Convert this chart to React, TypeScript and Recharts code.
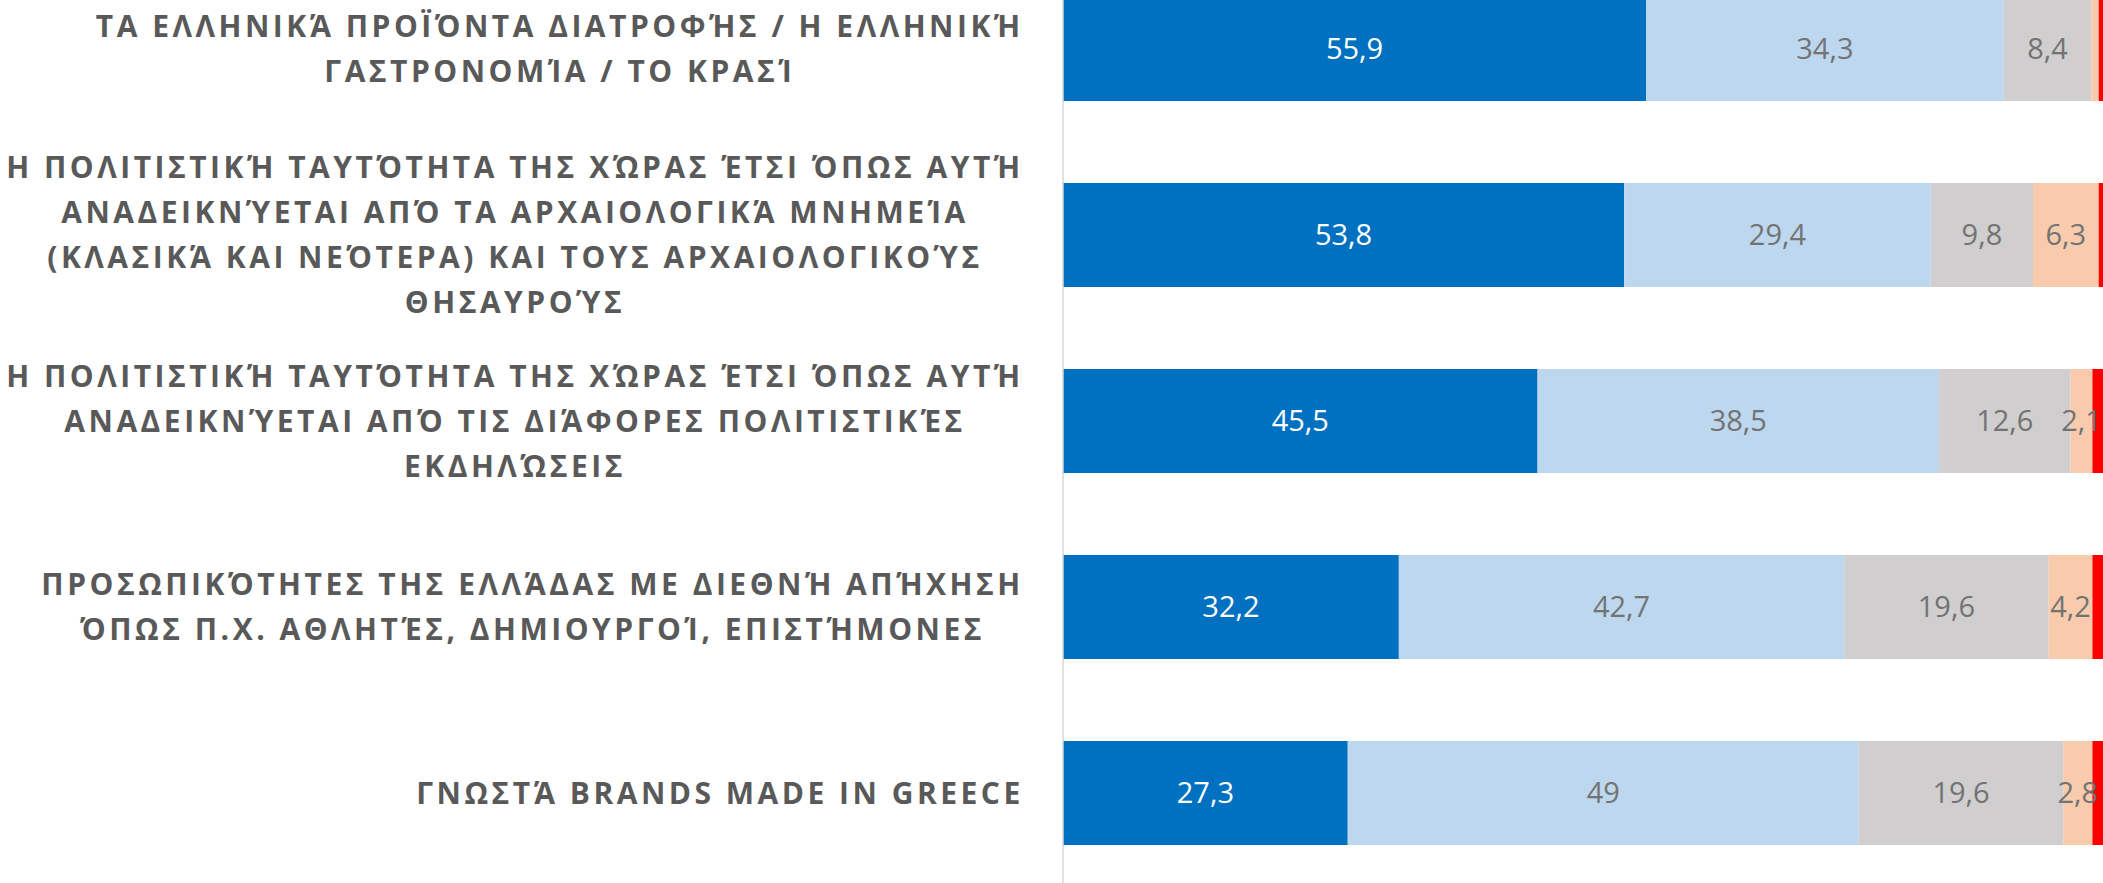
import { BarChart, Bar, XAxis, YAxis, LabelList } from 'recharts'

const categories = [
  'ΤΑ ΕΛΛΗΝΙΚΆ ΠΡΟΪΌΝΤΑ ΔΙΑΤΡΟΦΉΣ / Η ΕΛΛΗΝΙΚΉ\nΓΑΣΤΡΟΝΟΜΊΑ / ΤΟ ΚΡΑΣΊ',
  'Η ΠΟΛΙΤΙΣΤΙΚΉ ΤΑΥΤΌΤΗΤΑ ΤΗΣ ΧΏΡΑΣ ΈΤΣΙ ΌΠΩΣ ΑΥΤΉ\nΑΝΑΔΕΙΚΝΎΕΤΑΙ ΑΠΌ ΤΑ ΑΡΧΑΙΟΛΟΓΙΚΆ ΜΝΗΜΕΊΑ\n(ΚΛΑΣΙΚΆ ΚΑΙ ΝΕΌΤΕΡΑ) ΚΑΙ ΤΟΥΣ ΑΡΧΑΙΟΛΟΓΙΚΟΎΣ\nΘΗΣΑΥΡΟΎΣ',
  'Η ΠΟΛΙΤΙΣΤΙΚΉ ΤΑΥΤΌΤΗΤΑ ΤΗΣ ΧΏΡΑΣ ΈΤΣΙ ΌΠΩΣ ΑΥΤΉ\nΑΝΑΔΕΙΚΝΎΕΤΑΙ ΑΠΌ ΤΙΣ ΔΙΆΦΟΡΕΣ ΠΟΛΙΤΙΣΤΙΚΈΣ\nΕΚΔΗΛΏΣΕΙΣ',
  'ΠΡΟΣΩΠΙΚΌΤΗΤΕΣ ΤΗΣ ΕΛΛΆΔΑΣ ΜΕ ΔΙΕΘΝΉ ΑΠΉΧΗΣΗ\nΌΠΩΣ Π.Χ. ΑΘΛΗΤΈΣ, ΔΗΜΙΟΥΡΓΟΊ, ΕΠΙΣΤΉΜΟΝΕΣ',
  'ΓΝΩΣΤΆ BRANDS MADE IN GREECE',
]

const seriesA = [55.9, 53.8, 45.5, 32.2, 27.3]
const seriesB = [34.3, 29.4, 38.5, 42.7, 49]
const seriesC = [8.4, 9.8, 12.6, 19.6, 19.6]
const seriesD = [0.7, 6.3, 2.1, 4.2, 2.8]
const seriesE = [0.7, 0.7, 1.3, 1.3, 1.3]

const data = categories.map((name, i) => ({
  name,
  a: seriesA[i],
  b: seriesB[i],
  c: seriesC[i],
  d: seriesD[i],
  e: seriesE[i],
}))

const LABEL_FONT = '"Open Sans", sans-serif'
const LABEL_SIZE = 30
const LABEL_SPACING = 3.5
const LABEL_RIGHT = 1022
const LINE_H = 45

let ctx: CanvasRenderingContext2D | null = null
const measure = (s: string) => {
  if (!ctx) ctx = document.createElement('canvas').getContext('2d')
  if (!ctx) return s.length * 20
  ctx.font = `700 ${LABEL_SIZE}px "Open Sans"`
  return ctx.measureText(s).width + LABEL_SPACING * (s.length - 1)
}

const CategoryTick = (props: any) => {
  const { y, payload } = props
  const lines = String(payload.value).split('\n')
  const block = Math.max(...lines.map(measure))
  const cx = LABEL_RIGHT - block / 2
  const start = y - ((lines.length - 1) * LINE_H) / 2
  return (
    <text
      textAnchor="middle"
      fontFamily={LABEL_FONT}
      fontWeight={700}
      fontSize={LABEL_SIZE}
      letterSpacing={LABEL_SPACING}
      fill="#595959"
    >
      {lines.map((l, i) => (
        <tspan key={i} x={cx} y={start + i * LINE_H} dy="0.36em">
          {l}
        </tspan>
      ))}
    </text>
  )
}

// values under 1 carry no label in the source
const fmt = (v: any) => (Number(v) < 1 ? '' : String(v).replace('.', ','))

const valueLabel = (key: string, fill: string) => (
  <LabelList
    dataKey={key}
    position="center"
    formatter={fmt}
    fill={fill}
    fontSize={29}
    fontFamily={LABEL_FONT}
  />
)

export default function App() {
  return (
    <div
      style={{
        position: 'fixed',
        left: 0,
        top: 0,
        width: 2103,
        height: 883,
        overflow: 'hidden',
        background: '#fff',
      }}
    >
      <div style={{ position: 'absolute', left: 0, top: -44 }}>
        <BarChart
          layout="vertical"
          width={2110}
          height={930}
          data={data}
          margin={{ top: 0, right: 4, bottom: 0, left: 0 }}
        >
          <XAxis type="number" domain={[0, 100]} hide />
          <YAxis
            type="category"
            dataKey="name"
            width={1063}
            tickLine={false}
            axisLine={{ stroke: '#d9d9d9', strokeWidth: 1.5 }}
            tick={<CategoryTick />}
            interval={0}
          />
          <Bar dataKey="a" stackId="s" fill="#0070C0" barSize={104} isAnimationActive={false}>
            {valueLabel('a', '#ffffff')}
          </Bar>
          <Bar dataKey="b" stackId="s" fill="#BDD7EE" barSize={104} isAnimationActive={false}>
            {valueLabel('b', '#737373')}
          </Bar>
          <Bar dataKey="c" stackId="s" fill="#D0CECE" barSize={104} isAnimationActive={false}>
            {valueLabel('c', '#737373')}
          </Bar>
          <Bar dataKey="d" stackId="s" fill="#F8CBAD" barSize={104} isAnimationActive={false}>
            {valueLabel('d', '#737373')}
          </Bar>
          <Bar dataKey="e" stackId="s" fill="#FF0000" barSize={104} isAnimationActive={false} />
        </BarChart>
      </div>
    </div>
  )
}
